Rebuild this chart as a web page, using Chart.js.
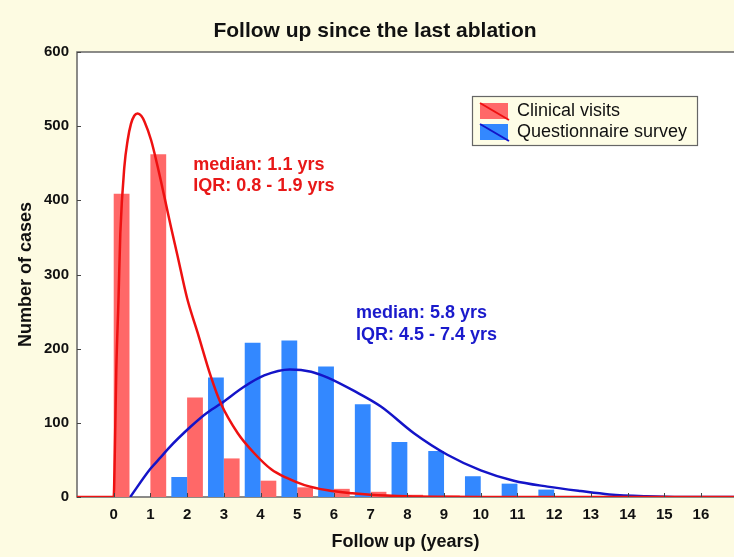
<!DOCTYPE html>
<html>
<head>
<meta charset="utf-8">
<title>Follow up since the last ablation</title>
<script src="https://cdn.jsdelivr.net/npm/chart.js@4.4.1/dist/chart.umd.min.js"></script>
<style>
html, body { margin: 0; padding: 0; background: #fdfbe2; }
#chart { display: block; }
</style>
</head>
<body>
<canvas id="chart" width="734" height="557"></canvas>
<script>
// histogram bins (years)
const years = [0, 1, 2, 3, 4, 5, 6, 7, 8, 9, 10, 11, 12, 13, 14, 15, 16];
const clinicalCounts = [409, 462, 134, 52, 22, 13, 11, 7, 3, 2, 1, 0, 0, 0, 0, 0, 0];
const surveyCounts = [0, 0, 27, 161, 208, 211, 176, 125, 74, 62, 28, 18, 10, 0, 1, 0, 0];

// fitted curves
const clinicalFitX = [-1, 0, 0.03, 0.07, 0.13, 0.18, 0.29, 0.38, 0.47, 0.56, 0.65, 0.75, 0.84, 1.02, 1.2, 1.38, 1.56, 1.74, 2.0, 2.29, 2.65, 2.92, 3.38, 3.83, 4.3, 4.7, 5.2, 5.83, 6.5, 7, 8, 9, 10, 17];
const clinicalFitY = [0, 0, 60, 170, 265, 355, 445, 481, 503, 514, 517, 514, 506, 481, 445, 405, 364, 325, 268, 221, 162, 126, 86, 59, 37, 26, 16, 9, 5, 3, 1, 0.3, 0, 0];
const surveyFitX = [0.45, 1, 1.29, 1.5, 2.1, 2.5, 2.92, 3.56, 4.1, 4.8, 5.38, 5.83, 6.55, 7.28, 8.18, 9.09, 10, 10.9, 11.82, 12.72, 13.5, 14.5, 15.5, 17];
const surveyFitY = [0, 38, 54, 66, 95, 112, 126, 149, 164, 172, 169, 161, 143, 122, 86, 57, 36, 22, 14, 8, 3.5, 1, 0, 0];

const yTicks = [0, 100, 200, 300, 400, 500, 600];

const seriesNames = ['Clinical visits', 'Questionnaire survey'];
const redNotes = ['median: 1.1 yrs', 'IQR: 0.8 - 1.9 yrs'];
const blueNotes = ['median: 5.8 yrs', 'IQR: 4.5 - 7.4 yrs'];

const FONT = '"Liberation Sans", Arial, Helvetica, sans-serif';
Chart.defaults.font.family = FONT;
Chart.defaults.color = '#111';

const RED_BAR = '#ff6868';
const BLUE_BAR = '#3388ff';
const RED_LINE = '#ee1111';
const BLUE_LINE = '#1414c8';
const PANEL = '#fdfbe2';

function pairs(xs, ys) {
	return xs.map(function (x, i) { return { x: x, y: ys[i] }; });
}

const decor = {
	id: 'decor',
	beforeDraw(chart) {
		const ctx = chart.ctx, a = chart.chartArea;
		ctx.save();
		ctx.fillStyle = PANEL;
		ctx.fillRect(0, 0, chart.width, chart.height);
		ctx.fillStyle = '#ffffff';
		ctx.fillRect(a.left, a.top, a.right - a.left, a.bottom - a.top);
		ctx.restore();
	},
	beforeDatasetsDraw(chart) {
		const ctx = chart.ctx, a = chart.chartArea;
		ctx.save();
		ctx.strokeStyle = '#666';
		ctx.lineWidth = 1.5;
		ctx.beginPath();
		ctx.moveTo(a.right + 2, a.top);
		ctx.lineTo(a.left, a.top);
		ctx.lineTo(a.left, a.bottom);
		ctx.lineTo(a.right + 2, a.bottom);
		ctx.stroke();
		ctx.restore();
	},
	afterDatasetsDraw(chart) {
		// small tick marks pointing into the plot
		const ctx = chart.ctx, a = chart.chartArea;
		const xs = chart.scales.x, ys = chart.scales.y;
		ctx.save();
		ctx.strokeStyle = '#444';
		ctx.lineWidth = 1;
		ctx.beginPath();
		years.forEach(function (v) {
			const px = Math.round(xs.getPixelForValue(v)) + 0.5;
			ctx.moveTo(px, a.bottom);
			ctx.lineTo(px, a.bottom - 4);
		});
		yTicks.forEach(function (v) {
			const py = Math.round(ys.getPixelForValue(v)) + 0.5;
			ctx.moveTo(a.left, py);
			ctx.lineTo(a.left + 4, py);
		});
		ctx.stroke();
		ctx.restore();
	},
	afterDraw(chart) {
		const ctx = chart.ctx;
		const xs = chart.scales.x, ys = chart.scales.y;
		ctx.save();

		// title
		ctx.fillStyle = '#111';
		ctx.font = 'bold 21px ' + FONT;
		ctx.textAlign = 'center';
		ctx.textBaseline = 'alphabetic';
		ctx.fillText('Follow up since the last ablation', 375, 36.5);

		// median / IQR notes
		ctx.textAlign = 'left';
		ctx.font = 'bold 18px ' + FONT;
		ctx.fillStyle = '#e81818';
		let nx = xs.getPixelForValue(2.17), ny = ys.getPixelForValue(441);
		redNotes.forEach(function (t, i) { ctx.fillText(t, nx, ny + i * 21.5); });
		ctx.fillStyle = '#1a1acc';
		nx = xs.getPixelForValue(6.6); ny = ys.getPixelForValue(241.3);
		blueNotes.forEach(function (t, i) { ctx.fillText(t, nx, ny + i * 21.5); });

		// legend
		const lx = 472, ly = 96, lw = 225, lh = 49;
		ctx.fillStyle = '#fefde6';
		ctx.fillRect(lx, ly, lw, lh);
		ctx.strokeStyle = '#666';
		ctx.lineWidth = 1.2;
		ctx.strokeRect(lx + 0.5, ly + 0.5, lw, lh);
		const swatches = [[RED_BAR, RED_LINE], [BLUE_BAR, BLUE_LINE]];
		ctx.font = '18px ' + FONT;
		ctx.textBaseline = 'middle';
		swatches.forEach(function (s, i) {
			const sy = ly + 7 + i * 21;
			ctx.fillStyle = s[0];
			ctx.fillRect(lx + 8, sy, 28, 16);
			ctx.strokeStyle = s[1];
			ctx.lineWidth = 2;
			ctx.beginPath();
			ctx.moveTo(lx + 8, sy);
			ctx.lineTo(lx + 37, sy + 17);
			ctx.stroke();
			ctx.fillStyle = '#111';
			ctx.fillText(seriesNames[i], lx + 45, sy + 8.5);
		});
		ctx.restore();
	}
};

new Chart(document.getElementById('chart'), {
	type: 'bar',
	data: {
		datasets: [{
			label: seriesNames[1],
			data: pairs(years, surveyCounts),
			backgroundColor: BLUE_BAR,
			categoryPercentage: 0.86,
			barPercentage: 1.0,
			order: 2
		}, {
			label: seriesNames[0],
			data: pairs(years, clinicalCounts),
			backgroundColor: RED_BAR,
			categoryPercentage: 0.86,
			barPercentage: 1.0,
			order: 2
		}, {
			type: 'line',
			label: seriesNames[0] + ' fit',
			data: pairs(clinicalFitX, clinicalFitY),
			borderColor: RED_LINE,
			borderWidth: 2.5,
			pointRadius: 0,
			cubicInterpolationMode: 'monotone',
			fill: false,
			order: 1
		}, {
			type: 'line',
			label: seriesNames[1] + ' fit',
			data: pairs(surveyFitX, surveyFitY),
			borderColor: BLUE_LINE,
			borderWidth: 2.5,
			pointRadius: 0,
			cubicInterpolationMode: 'monotone',
			fill: false,
			order: 1
		}]
	},
	options: {
		responsive: false,
		devicePixelRatio: 1,
		animation: false,
		layout: { padding: { top: 52, left: 0, right: 0, bottom: 0 } },
		plugins: {
			legend: { display: false },
			tooltip: { enabled: false },
			title: { display: false }
		},
		scales: {
			x: {
				type: 'linear',
				min: -1,
				max: 16.9,
				offset: false,
				grid: { display: false, drawTicks: false, offset: false },
				border: { display: false },
				afterBuildTicks: function (scale) {
					scale.ticks = years.map(function (v) { return { value: v }; });
				},
				afterFit: function (scale) { scale.height = 60; },
				ticks: {
					font: { size: 15, weight: 'bold' },
					color: '#111',
					padding: 9,
					maxRotation: 0,
					autoSkip: false
				},
				title: {
					display: true,
					text: 'Follow up (years)',
					font: { size: 18, weight: 'bold' },
					color: '#111',
					padding: { top: 0, bottom: 4 }
				}
			},
			y: {
				min: 0,
				max: 600,
				grid: { display: false, drawTicks: false },
				border: { display: false },
				afterBuildTicks: function (scale) {
					scale.ticks = yTicks.map(function (v) { return { value: v }; });
				},
				afterFit: function (scale) { scale.width = 77; },
				ticks: {
					font: { size: 15, weight: 'bold' },
					color: '#111',
					padding: 8
				},
				title: {
					display: true,
					text: 'Number of cases',
					font: { size: 18, weight: 'bold' },
					color: '#111',
					padding: { top: 15, bottom: 0 }
				}
			}
		}
	},
	plugins: [decor]
});
</script>
</body>
</html>
